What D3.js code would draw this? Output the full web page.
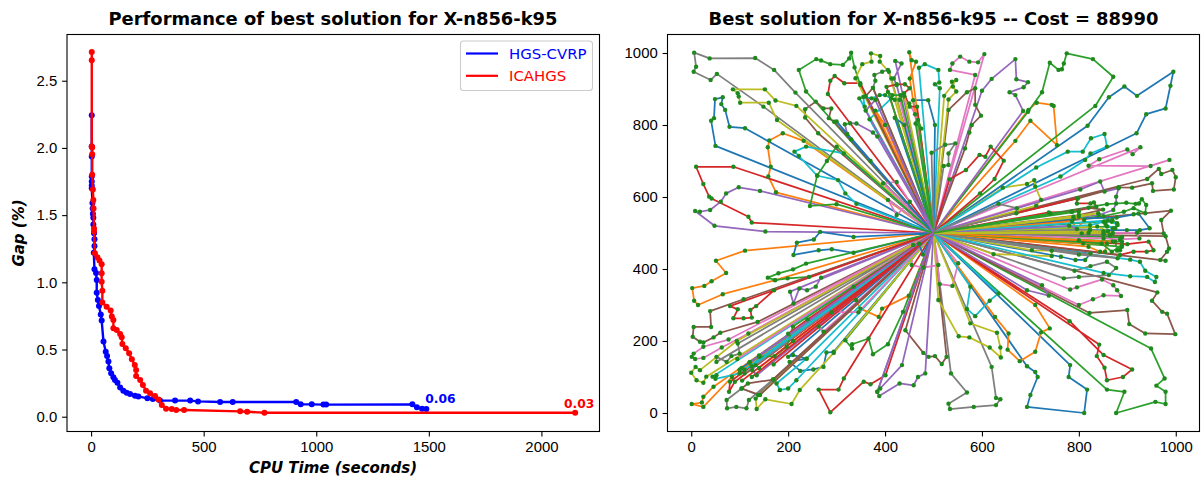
<!DOCTYPE html>
<html>
<head>
<meta charset="utf-8">
<script src="https://cdn.jsdelivr.net/npm/d3@7"></script>
<style>
  body { margin: 0; background: #fff; }
  svg { display: block; font-family: "DejaVu Sans", sans-serif; }
  .tick text { font-size: 14.9px; fill: #000; }
  .domain, .tick line { stroke: #000; stroke-width: 1.1px; }
</style>
</head>
<body>
<div id="chart"></div>
<script>
// Gap over time
const hgsTime = [3, 3, 3, 3, 3, 3, 3, 6, 7, 8, 10, 10, 13, 15, 15, 12, 15, 22, 25, 25, 30, 35, 43, 47, 55, 65, 71, 77, 81, 89, 99, 106, 117, 129, 143, 158, 173, 195, 210, 250, 274, 306, 373, 440, 475, 573, 629, 911, 931, 980, 1032, 1044, 1427, 1447, 1470, 1489];
const hgsGap = [2.243, 2.01, 1.936, 1.787, 1.75, 1.72, 1.7, 1.59, 1.55, 1.51, 1.48, 1.43, 1.365, 1.32, 1.27, 1.22, 1.097, 1.07, 1.018, 0.923, 0.869, 0.824, 0.76, 0.715, 0.56, 0.484, 0.452, 0.41, 0.36, 0.323, 0.293, 0.273, 0.253, 0.218, 0.194, 0.179, 0.169, 0.156, 0.151, 0.137, 0.132, 0.12, 0.12, 0.12, 0.114, 0.109, 0.109, 0.109, 0.092, 0.092, 0.09, 0.09, 0.092, 0.07, 0.06, 0.057];
const icaTime = [3, 3, 3, 5, 5, 5, 8, 10, 11, 13, 13, 17, 28, 37, 47, 47, 47, 50, 50, 69, 87, 92, 99, 99, 114, 129, 136, 139, 154, 169, 181, 194, 200, 200, 218, 230, 244, 262, 284, 299, 314, 333, 358, 378, 413, 662, 693, 770, 2150];
const icaGap = [2.713, 2.653, 2.01, 2.003, 1.953, 1.8, 1.69, 1.613, 1.55, 1.4, 1.378, 1.216, 1.186, 1.162, 1.134, 1.067, 1.005, 0.938, 0.849, 0.819, 0.79, 0.745, 0.72, 0.658, 0.645, 0.616, 0.591, 0.541, 0.509, 0.472, 0.427, 0.385, 0.348, 0.303, 0.273, 0.236, 0.194, 0.174, 0.154, 0.129, 0.087, 0.06, 0.057, 0.05, 0.05, 0.04, 0.037, 0.03, 0.03];

const legendNames = ["HGS-CVRP", "ICAHGS"];
const gapTicks = [0, 0.5, 1, 1.5, 2, 2.5];
const timeTicks = [0, 500, 1000, 1500, 2000];
const coordTicks = [0, 200, 400, 600, 800, 1000];
const depot = [500, 500];

// Customer stops per route, grouped by line colour
const routesBlue = [
  [[111,791],[79,795],[70,842],[62,858],[65,877],[49,872],[47,819],[41,812],[50,742]],
  [[818,798],[862,877],[894,907],[920,881],[995,948],[989,909],[979,846],[939,830],[919,777]],
  [[693,130],[710,114],[715,100],[700,50],[693,17],[811,0],[817,65],[779,100],[782,133]],
  [[335,489],[266,503],[253,482],[218,473],[211,439],[263,452],[290,455],[335,445]],
  [[200,156],[210,161],[238,151],[203,142],[225,117],[252,121],[273,128],[279,168],[294,170]],
  [[458,869],[489,869],[503,800]],
  [[763,434],[793,425],[813,425],[824,443]],
  [[789,540],[878,543],[923,554],[946,513],[926,508],[899,508],[823,508]],
  [[470,470],[478,440]],
  [[370,700],[330,760],[300,810]],
  [[104,125]],
  [[420,820],[440,800]]
];
const routesOrange = [
  [[232,756],[189,777],[161,757],[158,738],[164,684],[159,657],[175,613]],
  [[696,842],[713,862],[744,856],[748,853],[755,744],[700,812],[669,756]],
  [[111,451],[51,423],[72,389],[42,366],[27,353],[2,347],[6,312],[14,300],[65,330],[173,369]],
  [[46,73],[25,45],[22,29],[1,25],[25,17],[84,100]],
  [[335,351],[340,314],[349,290],[387,267],[394,290],[449,326]],
  [[627,267],[655,221],[653,176],[678,144],[710,170],[722,224],[740,235],[710,300]],
  [[450,1002],[455,980],[464,976],[451,929]],
  [[786,532],[796,511],[811,536],[789,545]],
  [[820,462],[844,448],[854,448],[858,471],[809,471]],
  [[210,200],[140,125]],
  [[400,800],[380,840]],
  [[800,480],[870,476]]
];
const routesGreen = [
  [[237,893],[222,953],[258,983],[268,979],[287,969],[313,967],[326,985],[330,1001],[337,960],[349,911]],
  [[695,837],[724,891],[740,973],[758,953],[765,955],[769,971],[775,999],[829,983],[871,934],[834,853]],
  [[858,65],[894,59],[877,0],[958,31],[979,25],[979,59],[960,76],[977,96],[949,179]],
  [[237,415],[210,399],[180,388],[158,376],[173,369],[199,374],[243,378]],
  [[318,202],[332,179],[332,191],[366,207],[375,163],[406,191],[437,281]],
  [[858,580],[898,584],[917,581],[924,582],[930,594],[939,578],[937,555],[913,569],[893,559],[851,547]],
  [[853,532],[869,536],[879,527],[875,513],[858,518]],
  [[889,462],[879,451],[875,476],[851,497],[865,494],[889,488]],
  [[300,740],[280,700],[260,660],[245,575],[300,580]],
  [[847,471],[868,448],[889,466],[885,452],[889,476]],
  [[121,142],[141,156],[172,158],[197,184],[210,240]],
  [[468,814],[475,790],[463,804]],
  [[406,892],[415,883],[432,883]],
  [[800,560],[785,559],[741,554]]
];
const routesRed = [
  [[87,684],[10,684],[25,636],[37,601],[42,596],[118,545],[125,529]],
  [[282,886],[287,923],[296,936],[316,916],[349,916]],
  [[533,649],[567,675],[595,717],[607,712],[618,740],[645,701],[626,650],[596,610]],
  [[796,596],[796,582],[824,582],[831,585],[836,573],[786,559],[738,557]],
  [[80,297],[96,288],[87,263],[108,263],[125,265],[122,286],[134,297],[171,341]],
  [[315,96],[304,65],[263,65],[287,2],[356,87],[370,80],[401,105]],
  [[842,190],[837,158],[853,126],[858,91],[891,100],[910,121],[851,161],[781,255]],
  [[900,469],[944,476],[954,452],[940,448],[913,448],[885,439]],
  [[403,906],[424,913],[441,913],[451,902],[439,888],[451,851],[466,851]],
  [[90,87],[78,59],[80,87]],
  [[105,90]],
  [[170,135]],
  [[240,260],[200,220]],
  [[125,100]]
];
const routesPurple = [
  [[142,617],[98,627],[72,610],[61,587],[39,564],[18,559],[8,561],[48,520],[153,504]],
  [[600,895],[620,928],[669,983],[671,927],[695,919],[686,905],[657,891],[669,883],[685,839]],
  [[322,775],[317,802],[328,805],[341,804],[375,779],[384,768]],
  [[204,337],[211,304],[223,346],[239,341],[257,351],[268,376]],
  [[803,621],[844,643],[853,615],[882,624],[877,601],[877,582],[871,564],[841,550]],
  [[384,59],[388,47],[430,82],[459,77],[468,100],[483,110]],
  [[421,978],[434,971],[418,929],[424,911]],
  [[693,341],[738,326],[724,355]],
  [[435,133],[390,68],[384,59]],
  [[133,133],[126,119],[135,105]],
  [[120,140]],
  [[780,520],[820,500]],
  [[380,870],[360,840]],
  [[140,160]]
];
const routesBrown = [
  [[262,777],[235,821],[235,844],[257,865],[273,846],[289,846],[284,819],[295,809]],
  [[531,842],[569,891],[586,902],[586,856],[598,826],[579,800],[574,779],[565,735]],
  [[798,596],[882,627],[910,626],[951,638],[953,617],[996,621],[1000,655],[993,675],[970,664],[965,678],[941,650]],
  [[108,316],[39,283],[41,239],[5,239],[3,212],[18,198],[25,196],[46,210],[60,223],[137,253]],
  [[442,230],[479,167],[490,156],[503,158],[517,136],[527,156]],
  [[822,278],[900,286],[904,247],[937,221],[999,219],[982,276],[972,281],[951,312],[962,335]],
  [[913,552],[990,562],[970,536],[975,499]],
  [[979,423],[968,425],[982,448],[986,457],[979,491]],
  [[169,93],[117,82],[104,68],[142,50]],
  [[100,120]],
  [[375,903],[360,880]],
  [[820,570],[850,565],[800,550]]
];
const routesPink = [
  [[605,997],[592,974],[574,976],[555,990],[539,971],[534,953],[586,939]],
  [[927,738],[911,719],[900,732],[842,705],[820,687],[948,686],[987,703]],
  [[800,300],[829,316],[851,327],[887,325],[879,341],[871,355],[848,371],[796,349],[782,343]],
  [[77,204],[25,184],[5,165],[1,156],[8,150],[25,153],[63,182],[118,221]],
  [[396,638],[424,642],[451,587],[424,550],[406,592]],
  [[458,467],[455,411],[479,404],[510,411]],
  [[551,416],[539,353],[513,358]],
  [[273,226],[263,240],[290,280],[345,280]],
  [[920,501],[925,485],[885,482],[851,485]],
  [[95,150]],
  [[430,870],[450,860],[462,830]]
];
const routesGray = [
  [[215,890],[171,953],[132,986],[38,985],[6,1001],[10,962],[5,948],[40,925],[53,942],[149,851]],
  [[375,903],[380,923],[378,939],[394,948],[406,953],[413,929]],
  [[536,110],[569,57],[531,26],[534,11],[583,17],[629,22],[638,38],[629,42],[620,128]],
  [[52,142],[52,156],[73,142],[83,158],[100,165],[96,193]],
  [[169,93],[119,36],[114,13],[93,17],[74,13],[73,36],[104,68],[138,50]],
  [[496,723],[524,745],[545,749],[531,721],[531,689],[521,686]],
  [[769,374],[800,378],[862,383],[877,403],[858,420],[824,408],[791,395]],
  [[634,581],[672,569],[671,555]],
  [[864,494],[851,499],[823,510]],
  [[110,110]],
  [[800,440],[880,430]]
];
const routesOlive = [
  [[217,853],[174,868],[152,899],[86,899],[96,888],[98,879],[101,862],[160,862],[177,814]],
  [[339,930],[353,969],[372,976],[371,999],[390,992],[389,976],[408,948]],
  [[531,871],[547,893],[540,907],[538,920],[547,925],[522,881]],
  [[643,626],[693,636],[708,647],[710,629],[722,592],[712,576]],
  [[94,200],[18,119],[9,128],[0,112],[11,91],[25,84],[31,101]],
  [[133,40],[135,11],[153,38],[207,25],[224,64],[294,167]],
  [[510,314],[552,213],[574,210],[616,182],[639,154],[638,182],[631,223],[576,249]],
  [[624,441],[744,436],[744,451],[703,452]],
  [[838,518],[860,505],[870,500]],
  [[100,120]],
  [[440,880],[420,870]],
  [[806,499],[851,505]],
  [[800,545],[840,555]]
];
const routesCyan = [
  [[315,721],[237,740],[213,726],[222,714],[260,659],[303,647],[318,610],[341,581]],
  [[347,874],[358,851],[355,878],[372,874],[389,883],[400,883],[413,874],[368,816]],
  [[470,959],[482,969],[510,953],[512,918],[503,913],[513,902]],
  [[712,682],[777,726],[808,726],[825,763],[853,775],[858,740],[824,721],[813,703],[762,657]],
  [[44,101],[52,105],[50,95],[100,110]],
  [[217,91],[200,68],[183,64],[176,82],[238,151]],
  [[576,351],[569,289],[586,269],[616,312],[634,332]],
  [[906,426],[926,420],[937,395],[960,378],[957,364],[941,378],[906,380],[851,389]],
  [[823,522],[851,531],[868,531],[880,522],[870,513],[855,525],[860,535]],
  [[110,120]],
  [[125,130]]
];
const routeGroups = [routesBlue, routesOrange, routesGreen, routesRed, routesPurple, routesBrown, routesPink, routesGray, routesOlive, routesCyan];

const svg = d3.select("#chart").append("svg").attr("width", 1202).attr("height", 480);

function frame(left, top, right, bottom, x, y, xTicks, yTicks, yFormat) {
  const g = svg.append("g");
  g.append("g").attr("transform", `translate(0,${bottom})`)
    .call(d3.axisBottom(x).tickValues(xTicks).tickFormat(d3.format("d")).tickSize(4.9).tickPadding(4.9));
  g.append("g").attr("transform", `translate(${left},0)`)
    .call(d3.axisLeft(y).tickValues(yTicks).tickFormat(yFormat).tickSize(4.9).tickPadding(4.9));
  g.selectAll(".domain").remove();
  svg.append("rect").attr("class", "border")
    .attr("x", left).attr("y", top).attr("width", right - left).attr("height", bottom - top)
    .attr("fill", "none").attr("stroke", "#000").attr("stroke-width", 1.1);
}

// Left panel
const perfX = d3.scaleLinear().domain([-107, 2258]).range([67, 599.5]);
const perfY = d3.scaleLinear().domain([-0.11, 2.844]).range([431.5, 34.5]);
frame(67, 34.5, 599.5, 431.5, perfX, perfY, timeTicks, gapTicks, d3.format(".1f"));

function drawRun(times, gaps, colour) {
  const pts = times.map((t, i) => [t, gaps[i]]);
  svg.append("path").datum(pts).attr("fill", "none").attr("stroke", colour).attr("stroke-width", 2.4)
    .attr("d", d3.line().x(d => perfX(d[0])).y(d => perfY(d[1])));
  svg.append("g").selectAll("circle").data(pts).join("circle")
    .attr("cx", d => perfX(d[0])).attr("cy", d => perfY(d[1])).attr("r", 3).attr("fill", colour);
}
drawRun(hgsTime, hgsGap, "#0000ff");
drawRun(icaTime, icaGap, "#ff0000");

const runEnd = (times, gaps, colour, dx, dy) => svg.append("text")
  .attr("x", perfX(times[times.length - 1]) + dx).attr("y", perfY(gaps[gaps.length - 1]) + dy)
  .attr("fill", colour).attr("font-weight", "bold").attr("font-size", 12.3).attr("text-anchor", "middle")
  .text(gaps[gaps.length - 1].toFixed(2));
runEnd(hgsTime, hgsGap, "#0000ff", 14, -6);
runEnd(icaTime, icaGap, "#ff0000", 4, -5);

svg.append("text").attr("x", 333).attr("y", 25).attr("text-anchor", "middle")
  .attr("font-weight", "bold").attr("font-size", 17.9).text("Performance of best solution for X-n856-k95");
svg.append("text").attr("x", 333).attr("y", 473).attr("text-anchor", "middle")
  .attr("font-weight", "bold").attr("font-style", "italic").attr("font-size", 15).text("CPU Time (seconds)");
svg.append("text").attr("transform", "translate(24,233) rotate(-90)").attr("text-anchor", "middle")
  .attr("font-weight", "bold").attr("font-style", "italic").attr("font-size", 15).text("Gap (%)");

const legend = svg.append("g");
legend.append("rect").attr("x", 460.5).attr("y", 41).attr("width", 132).attr("height", 49.5).attr("rx", 3)
  .attr("fill", "#fff").attr("fill-opacity", 0.8).attr("stroke", "#ccc").attr("stroke-width", 1.1);
legendNames.forEach((name, i) => {
  const colour = i ? "#ff0000" : "#0000ff";
  legend.append("line").attr("x1", 466).attr("x2", 498).attr("y1", 53.5 + i * 22.3).attr("y2", 53.5 + i * 22.3)
    .attr("stroke", colour).attr("stroke-width", 2.2);
  legend.append("text").attr("x", 509).attr("y", 59 + i * 22.3).attr("fill", colour)
    .attr("font-size", 14.9).text(name);
});

// Right panel
const mapX = d3.scaleLinear().domain([-49, 1049]).range([667.5, 1199.5]);
const mapY = d3.scaleLinear().domain([-51.4, 1051.4]).range([431.5, 34.5]);
frame(667.5, 34.5, 1199.5, 431.5, mapX, mapY, coordTicks, coordTicks, d3.format("d"));

svg.append("text").attr("x", 933.5).attr("y", 25).attr("text-anchor", "middle")
  .attr("font-weight", "bold").attr("font-size", 17.9).text("Best solution for X-n856-k95 -- Cost = 88990");

const routeLine = d3.line().x(d => mapX(d[0])).y(d => mapY(d[1]));
const rounds = d3.max(routeGroups, g => g.length);
const routeLayer = svg.append("g");
d3.range(rounds).forEach(r => {
  routeGroups.forEach((group, c) => {
    if (!group[r]) return;
    routeLayer.append("path").datum([depot, ...group[r], depot])
      .attr("fill", "none").attr("stroke", d3.schemeCategory10[c]).attr("stroke-width", 1.75)
      .attr("stroke-linejoin", "round").attr("d", routeLine);
  });
});
const stops = routeGroups.flat(2);
svg.append("g").selectAll("circle").data(stops).join("circle")
  .attr("cx", d => mapX(d[0])).attr("cy", d => mapY(d[1])).attr("r", 2.2).attr("fill", "#1e8a1e");
</script>
</body>
</html>
